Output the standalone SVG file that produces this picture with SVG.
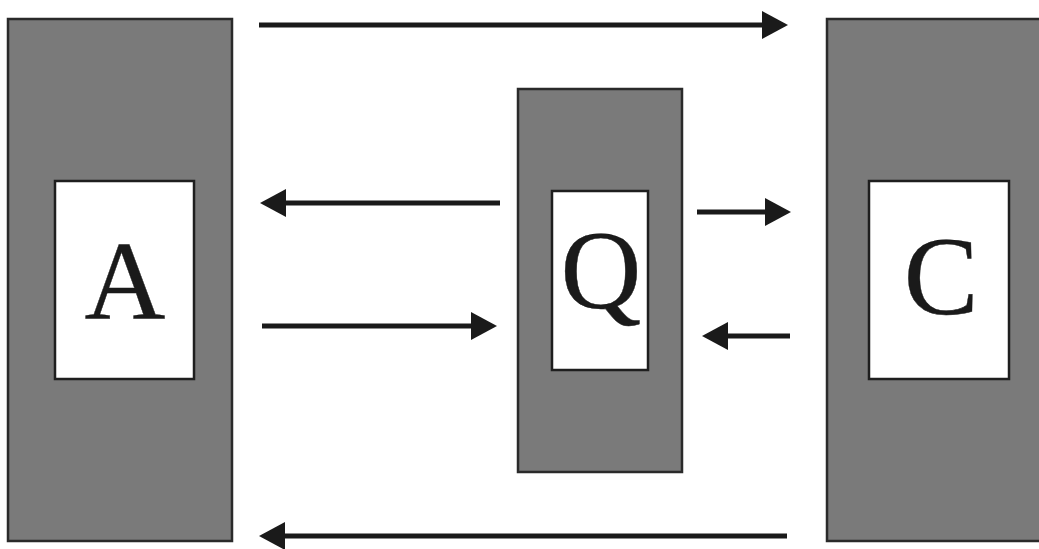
<svg xmlns="http://www.w3.org/2000/svg" width="1039" height="549" viewBox="0 0 1039 549">
<style>
.outer{fill:#7a7a7a;stroke:#2a2a2a;stroke-width:2.5}
.inner{fill:#ffffff;stroke:#1e1e1e;stroke-width:2.5}
.lbl{font-family:"Liberation Serif","Times New Roman",serif;font-size:112px;fill:#1a1a1a;stroke:#1a1a1a;stroke-width:0.4;text-anchor:middle}
.arr{stroke:#1a1a1a;stroke-width:5;fill:none;marker-end:url(#ah)}
</style>
<defs>
<marker id="ah" markerUnits="userSpaceOnUse" markerWidth="26" markerHeight="28" refX="0" refY="14" orient="auto">
<path d="M0,0 L26,14 L0,28 z" fill="#1a1a1a"/>
</marker>
</defs>
<rect width="1039" height="549" fill="#ffffff"/>
<g id="nodeA">
<rect class="outer" x="8" y="19" width="224" height="522"/>
<rect class="inner" x="55" y="181" width="139" height="198"/>
<text class="lbl" x="125" y="319">A</text>
</g>
<g id="nodeQ">
<rect class="outer" x="518" y="89" width="164" height="383"/>
<rect class="inner" x="552" y="191" width="96" height="179"/>
<text class="lbl" x="601" y="308">Q</text>
</g>
<g id="nodeC">
<rect class="outer" x="827" y="19" width="220" height="522"/>
<rect class="inner" x="869" y="181" width="140" height="198"/>
<text class="lbl" x="941" y="314">C</text>
</g>
<g id="connectors">
<line class="arr" x1="259" y1="25" x2="762" y2="25"/>
<line class="arr" x1="500" y1="203" x2="286" y2="203"/>
<line class="arr" x1="262" y1="326" x2="471" y2="326"/>
<line class="arr" x1="697" y1="212" x2="765" y2="212"/>
<line class="arr" x1="790" y1="336" x2="728" y2="336"/>
<line class="arr" x1="787" y1="536" x2="285" y2="536"/>
</g>
</svg>
